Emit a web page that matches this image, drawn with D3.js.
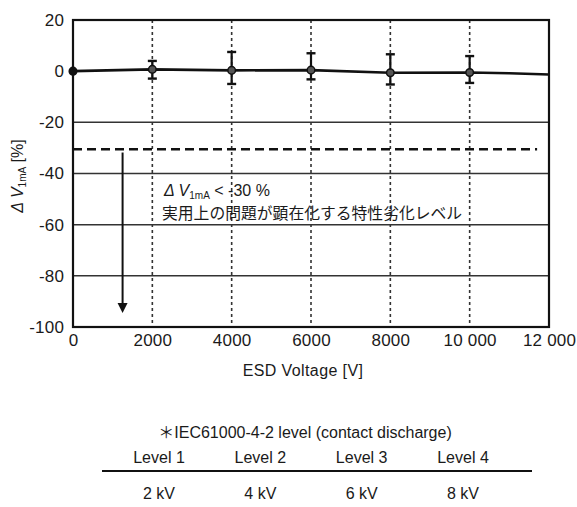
<!DOCTYPE html>
<html>
<head>
<meta charset="utf-8">
<script src="https://cdn.jsdelivr.net/npm/d3@7"></script>
<style>
  body { margin: 0; background: #fff; }
  text { font-family: "Liberation Sans", Arial, sans-serif; fill: #1a1a1a; }
  .jp { font-family: "Noto Sans CJK JP", sans-serif; }
</style>
</head>
<body>
<div id="chart"></div>
<script>
// data
var lineX = [0, 2000, 4000, 6000, 8000, 10000, 11000, 12000];
var lineY = [0, 0.7, 0.3, 0.4, -0.6, -0.5, -0.8, -1.3];
var pointX = [0, 2000, 4000, 6000, 8000, 10000];
var pointY = [0, 0.7, 0.3, 0.4, -0.6, -0.5];
var errHigh = [0, 4, 7.5, 7, 6.6, 5.9];
var errLow = [0, -2.9, -5, -3.2, -5.2, -4.6];
var xTicks = [0, 2000, 4000, 6000, 8000, 10000, 12000];
var xTickLabels = ["0", "2000", "4000", "6000", "8000", "10 000", "12 000"];
var yTicks = [20, 0, -20, -40, -60, -80, -100];
var gridY = [-20, -40, -60, -80];
var gridX = [2000, 4000, 6000, 8000, 10000];
var threshold = -30.5;
var arrowX = 1250, arrowFrom = -31.8, arrowTo = -94.5;
var levels = ["Level 1", "Level 2", "Level 3", "Level 4"];
var levelValues = ["2 kV", "4 kV", "6 kV", "8 kV"];

function init() {
    var w = 577, h = 507;
    var svg = d3.select("#chart").append("svg")
        .attr("width", w)
        .attr("height", h);

    var x = d3.scaleLinear().domain([0, 12000]).range([73, 549]);
    var y = d3.scaleLinear().domain([-100, 20]).range([327, 20]);

    // horizontal grid
    svg.append("g").selectAll("line").data(gridY).enter().append("line")
        .attr("x1", x(0)).attr("x2", x(12000))
        .attr("y1", function (d) { return y(d); })
        .attr("y2", function (d) { return y(d); })
        .attr("stroke", "#333").attr("stroke-width", 1.5);

    // vertical dotted grid
    svg.append("g").selectAll("line").data(gridX).enter().append("line")
        .attr("x1", function (d) { return x(d); })
        .attr("x2", function (d) { return x(d); })
        .attr("y1", y(20)).attr("y2", y(-100))
        .attr("stroke", "#333").attr("stroke-width", 1.6)
        .attr("stroke-dasharray", "3,3");

    // threshold dashed line
    svg.append("line")
        .attr("x1", x(0)).attr("x2", x(11700))
        .attr("y1", y(threshold)).attr("y2", y(threshold))
        .attr("stroke", "#111").attr("stroke-width", 2.5)
        .attr("stroke-dasharray", "9,5");

    // frame
    svg.append("rect")
        .attr("x", x(0)).attr("y", y(20))
        .attr("width", x(12000) - x(0)).attr("height", y(-100) - y(20))
        .attr("fill", "none").attr("stroke", "#111").attr("stroke-width", 2.2);

    // axes
    var xAxis = d3.axisBottom(x).tickValues(xTicks).tickSize(0)
        .tickFormat(function (d, i) { return xTickLabels[i]; });
    svg.append("g").attr("transform", "translate(0," + y(-100) + ")")
        .call(xAxis)
        .call(function (g) { g.select(".domain").remove(); })
        .selectAll("text").attr("dy", "0.95em")
        .style("font-size", "17px").style("letter-spacing", "0.2px");

    var yAxis = d3.axisLeft(y).tickValues(yTicks).tickSize(0)
        .tickFormat(function (d) { return String(d); });
    svg.append("g").attr("transform", "translate(" + x(0) + ",0)")
        .call(yAxis)
        .call(function (g) { g.select(".domain").remove(); })
        .selectAll("text").attr("dx", "-0.35em")
        .style("font-size", "17px").style("letter-spacing", "0.2px");

    // data line
    var pts = lineX.map(function (d, i) { return [d, lineY[i]]; });
    svg.append("path")
        .datum(pts)
        .attr("d", d3.line().x(function (d) { return x(d[0]); }).y(function (d) { return y(d[1]); }))
        .attr("fill", "none").attr("stroke", "#111").attr("stroke-width", 2.6);

    // error bars
    var eb = svg.append("g").attr("stroke", "#111").attr("stroke-width", 2.2);
    pointX.forEach(function (d, i) {
        if (i === 0) return;
        eb.append("line").attr("x1", x(d)).attr("x2", x(d))
            .attr("y1", y(errHigh[i])).attr("y2", y(errLow[i]));
        [errHigh[i], errLow[i]].forEach(function (v) {
            eb.append("line").attr("x1", x(d) - 4.5).attr("x2", x(d) + 4.5)
                .attr("y1", y(v)).attr("y2", y(v)).attr("stroke-width", 2.4);
        });
    });

    // markers
    svg.append("g").selectAll("circle").data(pointX).enter().append("circle")
        .attr("cx", function (d) { return x(d); })
        .attr("cy", function (d, i) { return y(pointY[i]); })
        .attr("r", 3.8)
        .attr("fill", function (d, i) { return i === 0 ? "#111" : "#555"; })
        .attr("stroke", "#111").attr("stroke-width", 1.5);

    // arrow
    svg.append("line")
        .attr("x1", x(arrowX)).attr("x2", x(arrowX))
        .attr("y1", y(arrowFrom)).attr("y2", y(arrowTo) - 8)
        .attr("stroke", "#111").attr("stroke-width", 2);
    var ax = x(arrowX), ay = y(arrowTo);
    svg.append("path")
        .attr("d", "M" + (ax - 5) + "," + (ay - 10) + "L" + (ax + 5) + "," + (ay - 10) + "L" + ax + "," + ay + "Z")
        .attr("fill", "#111");

    // annotation
    var ann = svg.append("text").attr("x", 164).attr("y", 196).style("font-size", "16px");
    ann.append("tspan").style("font-style", "italic").text("\u0394 V");
    ann.append("tspan").attr("dy", 3).style("font-size", "10px").text("1mA");
    ann.append("tspan").attr("dy", -3).text(" < -30 %");
    svg.append("text").attr("class", "jp").attr("x", 162).attr("y", 219)
        .style("font-size", "15.8px").text("実用上の問題が顕在化する特性劣化レベル");

    // y axis title
    var yt = svg.append("text")
        .attr("transform", "translate(23,176) rotate(-90)")
        .attr("text-anchor", "middle").style("font-size", "16px");
    yt.append("tspan").style("font-style", "italic").text("\u0394 V");
    yt.append("tspan").attr("dy", 3).style("font-size", "10px").text("1mA");
    yt.append("tspan").attr("dy", -3).text(" [%]");

    // x axis title
    svg.append("text").attr("x", 303).attr("y", 376)
        .attr("text-anchor", "middle").style("font-size", "16px")
        .style("letter-spacing", "0.4px").text("ESD Voltage [V]");

    // IEC table
    var iec = svg.append("text").attr("x", 305).attr("y", 438)
        .attr("text-anchor", "middle").style("font-size", "16px");
    iec.append("tspan").attr("class", "jp").text("\uff0a");
    iec.append("tspan").text("IEC61000-4-2 level (contact discharge)");
    var cx = d3.scalePoint().domain(levels).range([159, 463]);
    svg.append("g").selectAll("text").data(levels).enter().append("text")
        .attr("x", function (d) { return cx(d); }).attr("y", 463)
        .attr("text-anchor", "middle").style("font-size", "16px")
        .text(function (d) { return d; });
    svg.append("line").attr("x1", 102).attr("x2", 532).attr("y1", 471).attr("y2", 471)
        .attr("stroke", "#111").attr("stroke-width", 2.2);
    svg.append("g").selectAll("text").data(levelValues).enter().append("text")
        .attr("x", function (d, i) { return cx(levels[i]); }).attr("y", 499)
        .attr("text-anchor", "middle").style("font-size", "16px")
        .text(function (d) { return d; });
}
window.onload = init;
</script>
</body>
</html>
